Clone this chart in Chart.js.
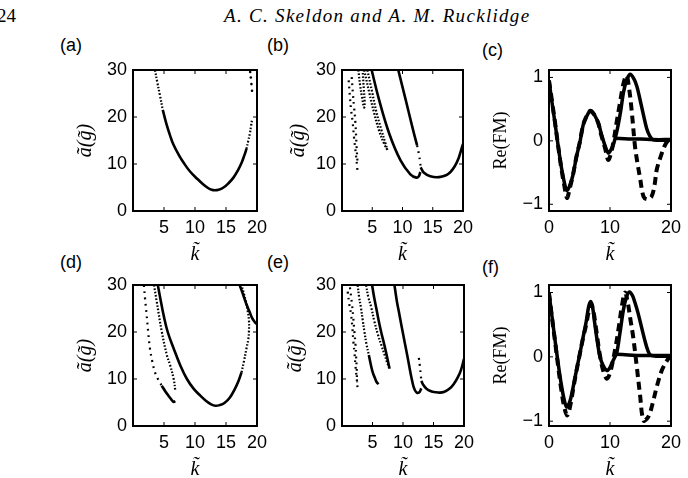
<!DOCTYPE html>
<html><head><meta charset="utf-8">
<script src="https://cdn.jsdelivr.net/npm/chart.js@4.4.1/dist/chart.umd.min.js"></script>
<style>
html,body{margin:0;padding:0;background:#fff;width:688px;height:478px;overflow:hidden;position:relative;}
canvas{position:absolute;left:0;top:0;pointer-events:none;}
.t{position:absolute;white-space:nowrap;color:#000;line-height:1;}
.lab{font-family:'Liberation Sans',Arial,sans-serif;font-size:18px;}
</style></head><body>
<div class="t" style="left:-3px;top:6px;font-family:'Liberation Serif',serif;font-size:19px;">24</div>
<div class="t" style="left:224px;top:6px;font-family:'Liberation Serif',serif;font-style:italic;font-size:19px;letter-spacing:1.3px;">A. C. Skeldon and A. M. Rucklidge</div>
<div class="t lab" style="left:60px;top:36px">(a)</div>
<div class="t lab" style="left:267px;top:36px">(b)</div>
<div class="t lab" style="left:482px;top:41px">(c)</div>
<div class="t lab" style="left:60px;top:253px">(d)</div>
<div class="t lab" style="left:267px;top:253px">(e)</div>
<div class="t lab" style="left:482px;top:258px">(f)</div>
<canvas id="ca" width="688" height="520"></canvas>
<canvas id="cb" width="688" height="520"></canvas>
<canvas id="cc" width="688" height="520"></canvas>
<canvas id="cd" width="688" height="520"></canvas>
<canvas id="ce" width="688" height="520"></canvas>
<canvas id="cf" width="688" height="520"></canvas>
<script>
// ---------- tick values ----------
const xTicksK = [5, 10, 15, 20];
const yTicksA = [0, 10, 20, 30];
const xTicksFM = [0, 10, 20];
const yTicksFM = [-1, 0, 1];

// ---------- panel (a): k vs a(g) ----------
const aTopDotted = [[3.55,30],[3.9,27.5],[4.35,24.6],[4.8,21.5]];
const aMain = [[4.8,21.5],[5.4,18.5],[6.0,16.0],[6.5,14.2],[7.4,11.9],[8.2,10.2],[9.2,8.4],[10.4,6.8],[11.3,5.7],[12.1,4.9],[12.7,4.5],[13.2,4.4],[13.8,4.5],[14.6,5.0],[15.4,5.9],[16.2,7.1],[16.9,8.6],[17.5,10.2],[18.0,12.0],[18.3,13.2]];
const aRightDotted = [[18.3,13.2],[18.6,15.0],[18.85,16.5],[19.05,18.2],[19.2,19.4]];
const aTopRightDots = [[18.9,29.6],[19.0,28.4],[19.1,27.0],[19.2,25.6]];

// ---------- panel (b) ----------
const bSparse1 = [[1.1,27.8],[1.3,24.5],[1.5,21.5],[1.75,19],[2.0,15.5],[2.3,12],[2.57,8.5]];
const bSparse2 = [[1.6,28.5],[1.8,25],[2.0,22],[2.2,19],[2.4,14],[2.55,10.5]];
const bFold1 = [[2.7,30],[3.0,26.7],[3.3,24.3],[3.65,22],[3.75,23],[3.6,26],[3.4,30]];
const bFold2 = [[3.67,30],[4.5,25.2],[5.3,20.9],[6.1,17.2],[6.96,14.3],[7.5,13.0]];
const bFold2b = [[4.2,30],[5.0,25.2],[5.7,21],[6.5,17.3],[7.2,14.3],[7.5,13.0]];
const bCurve4 = [[4.9,30],[6.1,23.8],[7.8,16.5],[9.7,10.7],[11.3,7.8],[12.3,7.1],[12.7,7.4],[12.95,8.3]];
const bCurve5a = [[9.3,30],[10.5,23.8],[11.6,18],[12.4,14]];
const bCurve5dot = [[12.4,14],[12.7,12.2],[12.9,10.5],[13.0,9.3]];
const bCurve5b = [[13.0,9.3],[13.5,8.2],[14.6,7.4],[16.0,7.2],[17.6,7.9],[19.0,10.4],[20,14.3]];

// ---------- panel (d) ----------
const dLeftDot = [[1.75,30],[1.95,27],[2.19,23.8],[2.45,20],[2.73,16.5],[3.1,13.8],[3.55,11.4],[4.1,9.8],[4.64,8.55]];
const dLeftSolid = [[4.64,8.55],[5.2,7.4],[5.74,6.4],[6.2,5.6],[6.56,5.1],[6.83,5.3]];
const dMidDot = [[3.39,30],[3.8,26.7],[4.64,20.1],[5.46,15.1],[6.0,12.9],[6.56,10],[6.83,7.5]];
const dMain = [[4.0,30],[4.5,26.5],[4.9,23.8],[5.6,20],[6.56,16.5],[7.6,13.0],[8.7,10.0],[9.8,7.9],[10.9,6.4],[11.8,5.3],[12.6,4.6],[13.3,4.3],[14.0,4.45],[14.75,4.9],[15.6,6.0],[16.4,7.8],[17.0,9.5],[17.5,11.4]];
const dMainDot = [[17.5,11.4],[17.9,13.8],[18.3,16.5],[18.6,18.5],[18.7,20.1],[18.7,22.5],[18.5,24.5],[18.2,26.5],[17.9,28.1],[17.5,30]];
const dTopRight = [[17.2,30],[17.8,27.8],[18.3,25.9],[18.8,24.3],[19.2,23.0],[19.6,22.2],[20,21.6]];

// ---------- panel (e) ----------
const eSparse1 = [[0.93,28.6],[1.2,25.9],[1.48,23.8],[1.7,21],[1.86,18],[2.05,15.5],[2.2,12.9],[2.4,10.3],[2.57,7.8]];
const eSparse2 = [[1.3,29.5],[1.64,25.9],[1.85,23],[2.03,20.1],[2.2,17.5],[2.3,15.1],[2.4,12.5],[2.47,9.3]];
const eCurve2Dot = [[2.57,30],[2.8,27.5],[3.1,25.2],[3.4,22.5],[3.67,20.1],[4.0,17.5],[4.4,15.1]];
const eCurve2Solid = [[4.4,15.1],[4.7,13.2],[5.04,11.4],[5.4,10.2],[5.7,9.3],[6.0,8.9]];
const eCurve3Dot = [[3.95,30],[4.3,27.5],[4.8,25.2],[5.3,22.3],[5.9,19.4],[6.5,17],[7.0,15.1],[7.4,13.5],[7.7,12.5]];
const eCurve4 = [[4.93,30],[5.25,27.5],[5.6,25.2],[6.0,22.5],[6.4,20.1],[6.8,18],[7.2,15.8],[7.5,14],[7.8,12.2]];
const eCurve5 = [[8.6,30],[9.0,26.5],[9.4,23.8],[9.8,21],[10.25,18],[10.7,15],[11.1,12.2],[11.4,10.2],[11.7,8.5],[12.0,7.5],[12.27,7.1],[12.5,7.05],[12.75,7.3],[13.0,8.0]];
const eCurve6Dot = [[12.6,14.5],[12.75,12.9],[12.9,11.0],[13.0,9.6]];
const eCurve6 = [[13.0,9.6],[13.3,8.8],[13.8,8.0],[14.6,7.4],[15.3,7.2],[16.0,7.1],[16.8,7.3],[17.6,7.9],[18.3,8.9],[19.0,10.4],[19.5,11.9],[20,14.3]];

// ---------- panel (c): Re(FM) ----------
const cSolidX = [0,0.5,1,1.5,2,2.5,2.9,3.3,3.9,4.5,5.05,5.6,6.15,6.7,7.0,7.5,8.1,8.6,9.2,9.7,10.1,10.55,11.0,11.4,11.8,12.2,12.7,13.3,13.9,14.4,14.9,15.5,16.0,16.5,17.0,18,19,20];
const cSolidY = [0.95,0.6,0.27,-0.08,-0.4,-0.65,-0.78,-0.73,-0.55,-0.25,-0.03,0.25,0.38,0.47,0.47,0.4,0.28,0.1,-0.08,-0.19,-0.15,-0.06,0.1,0.28,0.5,0.76,0.95,1.05,0.98,0.86,0.66,0.4,0.2,0.08,0.02,0.01,0.01,0.01];
const cFlatX = [10.9,13,15,17,20];
const cFlatY = [0.04,0.03,0.03,0.02,0.02];
const cDashX = [0,0.5,1,1.5,2,2.5,2.95,3.4,3.9,4.5,5.05,5.6,6.15,6.7,7.0,7.5,8.1,8.6,9.2,9.7,10.1,10.5,11.1,11.6,12.2,12.7,13.1,13.55,14.1,14.5,14.9,15.5,16.1,16.8,17.3,17.65,18.3,19.0,19.5,20];
const cDashY = [0.95,0.62,0.28,-0.08,-0.42,-0.7,-0.9,-0.75,-0.55,-0.25,-0.02,0.25,0.39,0.47,0.46,0.4,0.27,0.08,-0.12,-0.3,-0.22,-0.05,0.3,0.58,0.9,1.03,0.85,0.48,-0.09,-0.35,-0.57,-0.88,-0.92,-0.88,-0.7,-0.46,-0.25,-0.07,0.0,0.02];

// ---------- panel (f) ----------
const fSolidX = [0,0.5,1,1.5,2,2.5,2.9,3.4,4.0,4.5,5.0,5.6,6.1,6.5,6.8,7.1,7.5,7.9,8.36,8.9,9.46,9.9,10.3,10.7,11.1,11.6,12.2,12.7,13.2,13.7,14.1,14.6,15.2,15.7,16.2,16.6,17.5,18.5,20];
const fSolidY = [0.99,0.62,0.25,-0.1,-0.42,-0.67,-0.78,-0.7,-0.45,-0.21,0.02,0.31,0.55,0.78,0.86,0.8,0.52,0.25,0.0,-0.14,-0.21,-0.18,-0.1,-0.02,0.06,0.35,0.73,0.93,1.01,0.95,0.84,0.68,0.45,0.26,0.1,0.03,0.01,0.01,0.01];
const fFlatX = [11.0,13,15,17,20];
const fFlatY = [0.04,0.03,0.02,0.02,0.02];
const fDashX = [0,0.5,1,1.5,2,2.5,3.0,3.5,4.0,4.5,5.0,5.6,6.1,6.5,6.9,7.3,7.8,8.3,8.9,9.5,10.0,10.5,11.0,11.5,12.0,12.46,12.9,13.4,13.8,14.4,14.9,15.5,16.3,17.0,17.65,18.5,19.4,20];
const fDashY = [0.99,0.6,0.23,-0.15,-0.5,-0.78,-0.91,-0.75,-0.48,-0.22,0.02,0.3,0.5,0.7,0.82,0.7,0.38,0.05,-0.22,-0.34,-0.25,-0.05,0.2,0.5,0.82,1.0,0.85,0.55,0.31,-0.16,-0.57,-0.99,-0.93,-0.72,-0.47,-0.21,-0.05,0.02];

// ---------- styles ----------
const SOLID = {borderWidth: 2.6};
const DENSE = {borderWidth: 2.2, borderDash: [1.6, 1.8]};
const SPARSE = {borderWidth: 2.2, borderDash: [1.8, 4.5]};
const FM_SOLID = {borderWidth: 3.5, tension: 0.35};
const FM_DASH = {borderWidth: 4, borderDash: [8, 5], tension: 0.35};

function pairs(arr){ return arr.map(p => ({x: p[0], y: p[1]})); }
function zip(xs, ys){ return xs.map((x, i) => ({x: x, y: ys[i]})); }
function line(pts, st){
  return Object.assign({data: pts, showLine: true, pointRadius: 0, borderColor: '#000',
    backgroundColor: '#000', tension: 0.4, fill: false, borderCapStyle: 'butt'}, st);
}
function dots(pts, r){
  return {data: pts, showLine: false, pointRadius: r, pointBorderWidth: 0,
    pointBackgroundColor: '#000', borderColor: '#000', backgroundColor: '#000'};
}

const frame = {
  id: 'frame',
  afterDraw(chart){
    const ctx = chart.ctx, a = chart.chartArea, x = chart.scales.x, y = chart.scales.y;
    ctx.save();
    ctx.strokeStyle = '#000';
    ctx.lineWidth = 1;
    ctx.beginPath();
    x.ticks.forEach(t => { const p = x.getPixelForValue(t.value);
      ctx.moveTo(p, a.bottom); ctx.lineTo(p, a.bottom - 4);
      ctx.moveTo(p, a.top); ctx.lineTo(p, a.top + 4); });
    y.ticks.forEach(t => { const p = y.getPixelForValue(t.value);
      ctx.moveTo(a.left, p); ctx.lineTo(a.left + 4, p);
      ctx.moveTo(a.right, p); ctx.lineTo(a.right - 4, p); });
    ctx.stroke();
    ctx.lineWidth = 2;
    ctx.strokeRect(a.left, a.top, a.right - a.left, a.bottom - a.top);
    ctx.restore();
  }
};

function fmt(v){ return v < 0 ? '\u2212' + Math.abs(v) : String(v); }

function panel(id, box, yW, xH, xr, yr, xT, yT, yTitle, yTitleFont, datasets){
  const W = 688, H = 520;
  const tickFont = {family: "'Liberation Sans', Arial, sans-serif", size: 18};
  new Chart(document.getElementById(id), {
    type: 'scatter',
    data: {datasets: datasets},
    plugins: [frame],
    options: {
      responsive: false, animation: false, events: [],
      layout: {padding: {left: box[0] - yW, top: box[2], right: W - box[1], bottom: H - box[3] - xH}},
      plugins: {legend: {display: false}, tooltip: {enabled: false}},
      scales: {
        x: {type: 'linear', min: xr[0], max: xr[1],
          afterBuildTicks: s => { s.ticks = xT.map(v => ({value: v})); },
          afterFit: s => { s.height = xH; s.paddingLeft = 0; s.paddingRight = 0; },
          grid: {display: false, drawTicks: false}, border: {display: false},
          ticks: {font: tickFont, color: '#000', padding: 6, maxRotation: 0, autoSkip: false, callback: v => fmt(v)},
          title: {display: true, text: 'k\u0303', color: '#000', padding: 0,
            font: {family: "'Liberation Serif', serif", size: 20, style: 'italic'}}},
        y: {type: 'linear', min: yr[0], max: yr[1],
          afterBuildTicks: s => { s.ticks = yT.map(v => ({value: v})); },
          afterFit: s => { s.width = yW; s.paddingTop = 0; s.paddingBottom = 0; },
          grid: {display: false, drawTicks: false}, border: {display: false},
          ticks: {font: tickFont, color: '#000', padding: 6, autoSkip: false, callback: v => fmt(v)},
          title: {display: true, text: yTitle, color: '#000', padding: 0, font: yTitleFont}}
      }
    }
  });
}

const agFont = {family: "'Liberation Serif', serif", size: 20, style: 'italic'};
const fmFont = {family: "'Liberation Serif', serif", size: 18};
const agText = '\u00e3(g\u0303)';

panel('ca', [133, 257, 70, 211], 59, 56, [0, 20], [0, 30], xTicksK, yTicksA, agText, agFont, [
  line(pairs(aTopDotted), DENSE), line(pairs(aMain), SOLID), line(pairs(aRightDotted), DENSE),
  dots(pairs(aTopRightDots), 1.3)
]);
panel('cb', [342, 463, 70, 211], 55, 56, [0, 20], [0, 30], xTicksK, yTicksA, agText, agFont, [
  line(pairs(bSparse1), SPARSE), line(pairs(bSparse2), SPARSE), line(pairs(bFold1), DENSE),
  line(pairs(bFold2), DENSE), line(pairs(bFold2b), DENSE), line(pairs(bCurve4), SOLID),
  line(pairs(bCurve5a), SOLID), line(pairs(bCurve5dot), SPARSE), line(pairs(bCurve5b), SOLID)
]);
panel('cc', [549, 671, 70, 211], 59, 56, [0, 20], [-1.106, 1.117], xTicksFM, yTicksFM, 'Re(FM)', fmFont, [
  line(zip(cSolidX, cSolidY), FM_SOLID), line(zip(cFlatX, cFlatY), FM_SOLID), line(zip(cDashX, cDashY), FM_DASH)
]);
panel('cd', [133, 257, 285, 426], 59, 56, [0, 20], [0, 30], xTicksK, yTicksA, agText, agFont, [
  line(pairs(dLeftDot), SPARSE), line(pairs(dLeftSolid), SOLID), line(pairs(dMidDot), DENSE),
  line(pairs(dMain), SOLID), line(pairs(dMainDot), DENSE), line(pairs(dTopRight), SOLID)
]);
panel('ce', [342, 464, 285, 426], 58, 56, [0, 20], [0, 30], xTicksK, yTicksA, agText, agFont, [
  line(pairs(eSparse1), SPARSE), line(pairs(eSparse2), SPARSE), line(pairs(eCurve2Dot), DENSE),
  line(pairs(eCurve2Solid), SOLID), line(pairs(eCurve3Dot), DENSE), line(pairs(eCurve4), SOLID),
  line(pairs(eCurve5), SOLID), line(pairs(eCurve6Dot), SPARSE), line(pairs(eCurve6), SOLID)
]);
panel('cf', [549, 671, 285, 426], 59, 56, [0, 20], [-1.075, 1.117], xTicksFM, yTicksFM, 'Re(FM)', fmFont, [
  line(zip(fSolidX, fSolidY), FM_SOLID), line(zip(fFlatX, fFlatY), FM_SOLID), line(zip(fDashX, fDashY), FM_DASH)
]);
</script>
</body></html>
